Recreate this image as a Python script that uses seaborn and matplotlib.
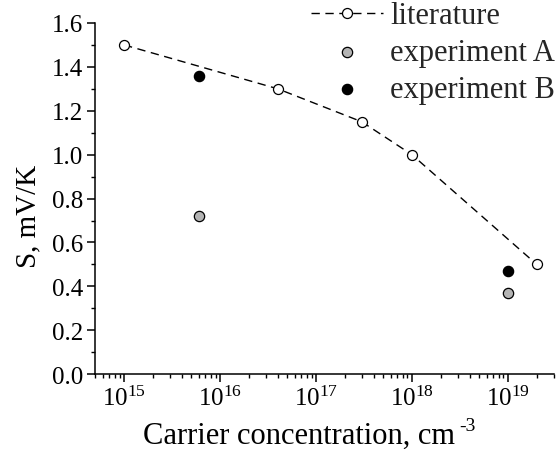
import numpy as np
import pandas as pd
import matplotlib
matplotlib.use("Agg")
import matplotlib.pyplot as plt
from matplotlib.ticker import LogLocator, MultipleLocator, NullFormatter, FormatStrFormatter
import seaborn as sns

# Seebeck coefficient vs carrier concentration
lit_n = [1e15, 4e16, 3e17, 1e18, 2e19]
lit_s = [1.50, 1.30, 1.15, 1.00, 0.50]

expA_n = [6e15, 1e19]
expA_s = [0.72, 0.37]

expB_n = [6e15, 1e19]
expB_s = [1.36, 0.47]

sns.set_theme(style="ticks")
plt.rcParams["font.family"] = ["Liberation Serif", "DejaVu Serif"]
plt.rcParams["mathtext.fontset"] = "custom"
plt.rcParams["mathtext.rm"] = "Liberation Serif"
plt.rcParams["mathtext.it"] = "Liberation Serif:italic"

fig = plt.figure(figsize=(5.56, 4.52), dpi=100)
ax = fig.add_axes([0.171, 0.170, 0.825, 0.777])

lit = pd.DataFrame({"n": lit_n, "S": lit_s})
dfa = pd.DataFrame({"n": expA_n, "S": expA_s})
dfb = pd.DataFrame({"n": expB_n, "S": expB_s})

sns.lineplot(data=lit, x="n", y="S", ax=ax, color="black", linestyle=(0, (6, 4)),
             linewidth=1.0, marker="o", markersize=7.2, markerfacecolor="white",
             markeredgecolor="black", markeredgewidth=0.9, label="literature")
sns.scatterplot(data=dfa, x="n", y="S", ax=ax, color="#b4b4b4", edgecolor="black",
                linewidth=0.9, s=55, label="experiment A", zorder=3)
sns.scatterplot(data=dfb, x="n", y="S", ax=ax, color="black", edgecolor="black",
                linewidth=0.9, s=55, label="experiment B", zorder=3)

ax.set_xscale("log")
ax.set_xlim(10**14.698, 10**19.479)
ax.set_ylim(0, 1.6)
ax.xaxis.set_major_locator(LogLocator(base=10, numticks=10))
ax.xaxis.set_minor_locator(LogLocator(base=10, subs=np.arange(2, 10), numticks=20))
ax.xaxis.set_minor_formatter(NullFormatter())
ax.yaxis.set_major_locator(MultipleLocator(0.2))
ax.yaxis.set_minor_locator(MultipleLocator(0.1))
ax.yaxis.set_major_formatter(FormatStrFormatter("%.1f"))

sns.despine(ax=ax)
for sp in ("left", "bottom"):
    ax.spines[sp].set_color("black")
    ax.spines[sp].set_linewidth(1.1)

ax.tick_params(axis="both", which="major", direction="out", length=5.5, width=1.1,
               color="black", labelsize=18, labelcolor="black", pad=3)
ax.tick_params(axis="both", which="minor", direction="out", length=3, width=1.0,
               color="black")

# axis titles
ax.set_xlabel("Carrier concentration, cm", fontsize=22, color="black")
ax.xaxis.label.set_verticalalignment("baseline")
ax.xaxis.set_label_coords(0.4455, -0.1966)
ax.annotate("-3", xy=(1, 0), xycoords=ax.xaxis.label, xytext=(3.0, 14.8),
            textcoords="offset points", ha="left", va="baseline",
            fontsize=14, color="black", annotation_clip=False)

ax.set_ylabel("S, mV/K", fontsize=21, color="black")
ax.yaxis.set_label_coords(-0.118, 0.453)

leg = ax.legend(loc="upper right", bbox_to_anchor=(0.998, 0.995),
                bbox_transform=fig.transFigure, frameon=False,
                fontsize=22, handlelength=2.36, handletextpad=0.23,
                labelspacing=0.25, borderaxespad=0, borderpad=0)

fig.savefig("out.png", dpi=100)
